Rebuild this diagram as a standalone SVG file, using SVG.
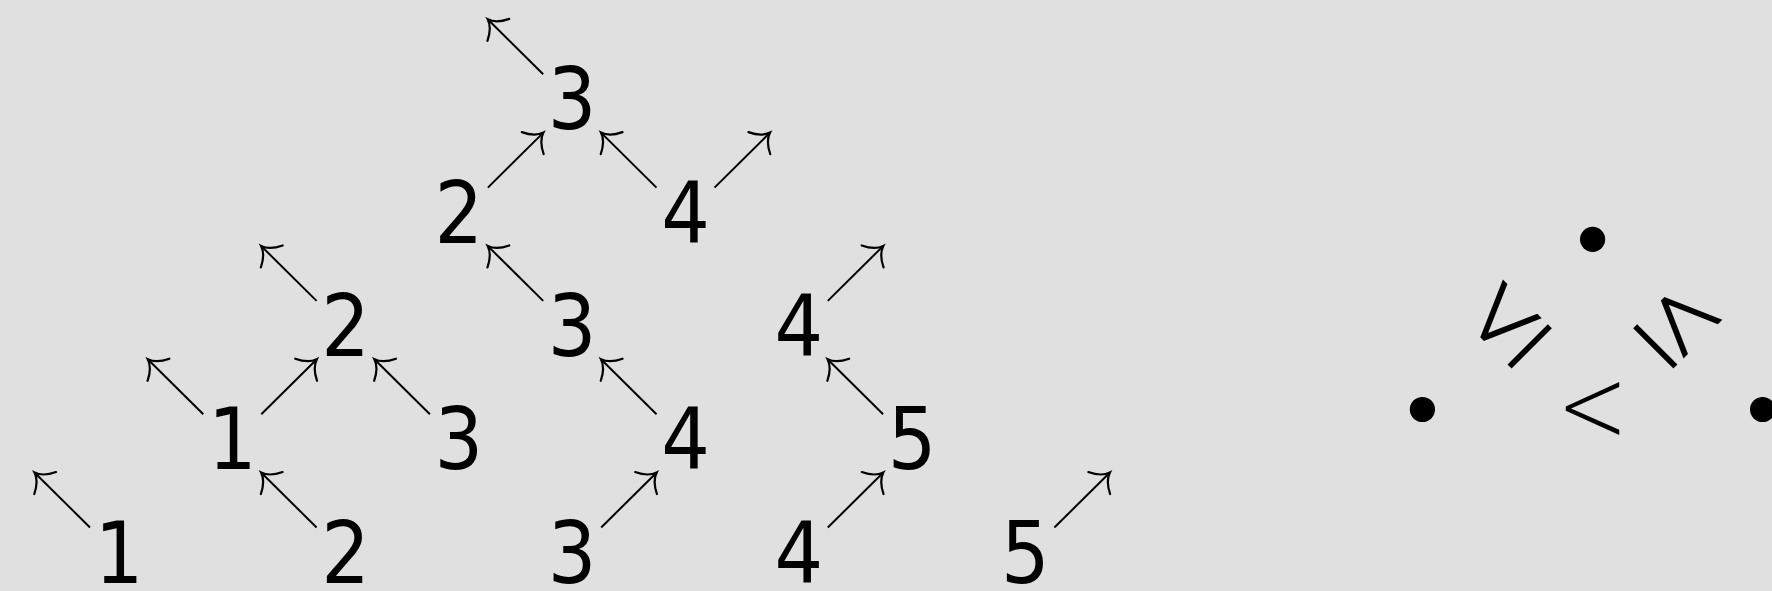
<svg xmlns="http://www.w3.org/2000/svg" width="1772" height="591" viewBox="0 0 1772 591">
<style>
.n{font-family:"DejaVu Sans","Liberation Sans",sans-serif;font-size:85px;fill:#000;text-anchor:middle;font-stretch:condensed}
.s{font-family:"DejaVu Sans","Liberation Sans",sans-serif;font-weight:200;font-size:88px;fill:#000;text-anchor:middle}
.le{font-family:Inter,"DejaVu Sans",sans-serif;font-weight:200;font-size:136px;fill:#000;text-anchor:middle}
.a{stroke:#000;stroke-width:2;fill:none;marker-end:url(#to)}
</style>
<defs>
<marker id="to" markerUnits="userSpaceOnUse" viewBox="-20 -20 24 40" markerWidth="24" markerHeight="40" refX="0" refY="0" orient="auto" overflow="visible">
<path d="M-15,-15.5 Q-9,-3 0,0 Q-9,3 -15,15.5" fill="none" stroke="#000" stroke-width="2.2" stroke-linecap="round"/>
</marker>
</defs>
<rect width="1772" height="591" fill="#e0e0e0"/>
<g id="nodes">
<g id="n-r0-1"><text class="n" x="119" y="582.5">1</text></g>
<g id="n-r0-2"><text class="n" x="345.6" y="582.5">2</text></g>
<g id="n-r0-3"><text class="n" x="572.2" y="582.5">3</text></g>
<g id="n-r0-4"><text class="n" x="798.8" y="582.5">4</text></g>
<g id="n-r0-5"><text class="n" x="1025.4" y="582.5">5</text></g>
<g id="n-r1-1"><text class="n" x="232.3" y="469.2">1</text></g>
<g id="n-r1-3"><text class="n" x="458.9" y="469.2">3</text></g>
<g id="n-r1-4"><text class="n" x="685.5" y="469.2">4</text></g>
<g id="n-r1-5"><text class="n" x="912.1" y="469.2">5</text></g>
<g id="n-r2-2"><text class="n" x="345.6" y="355.9">2</text></g>
<g id="n-r2-3"><text class="n" x="572.2" y="355.9">3</text></g>
<g id="n-r2-4"><text class="n" x="798.8" y="355.9">4</text></g>
<g id="n-r3-2"><text class="n" x="458.9" y="242.6">2</text></g>
<g id="n-r3-4"><text class="n" x="685.5" y="242.6">4</text></g>
<g id="n-r4-3"><text class="n" x="572.2" y="129.3">3</text></g>
</g>
<g id="connectors">
<line class="a" x1="90" y1="527.5" x2="34.5" y2="472.5"/>
<line class="a" x1="316.6" y1="527.5" x2="261.1" y2="472.5"/>
<line class="a" x1="601.2" y1="527.5" x2="656.7" y2="472.5"/>
<line class="a" x1="827.8" y1="527.5" x2="883.3" y2="472.5"/>
<line class="a" x1="1054.4" y1="527.5" x2="1109.9" y2="472.5"/>
<line class="a" x1="203.3" y1="414.2" x2="147.8" y2="359.2"/>
<line class="a" x1="261.3" y1="414.2" x2="316.8" y2="359.2"/>
<line class="a" x1="429.9" y1="414.2" x2="374.4" y2="359.2"/>
<line class="a" x1="656.5" y1="414.2" x2="601" y2="359.2"/>
<line class="a" x1="883.1" y1="414.2" x2="827.6" y2="359.2"/>
<line class="a" x1="316.6" y1="300.9" x2="261.1" y2="245.9"/>
<line class="a" x1="543.2" y1="300.9" x2="487.7" y2="245.9"/>
<line class="a" x1="827.8" y1="300.9" x2="883.3" y2="245.9"/>
<line class="a" x1="487.9" y1="187.6" x2="543.4" y2="132.6"/>
<line class="a" x1="656.5" y1="187.6" x2="601" y2="132.6"/>
<line class="a" x1="714.5" y1="187.6" x2="770" y2="132.6"/>
<line class="a" x1="543.2" y1="74.3" x2="487.7" y2="19.3"/>
</g>
<g id="triangle">
<g id="p-top"><circle cx="1592.6" cy="239.3" r="12.6" fill="#000"/></g>
<g id="p-left"><circle cx="1422.4" cy="409.5" r="12.6" fill="#000"/></g>
<g id="p-right"><circle cx="1762.6" cy="409.5" r="12.6" fill="#000"/></g>
<g id="rel-bottom" transform="translate(1592.5,409.5) scale(0.97,1.22)"><text class="s" x="0" y="27">&lt;</text></g>
<g id="rel-left" transform="translate(1516.5,324.3) rotate(-45)"><text class="le" x="-6.3" y="33.6">≤</text></g>
<g id="rel-right" transform="translate(1677.5,333.3) rotate(45)"><text class="le" x="-6.3" y="33.6">≤</text></g>
</g>
</svg>
